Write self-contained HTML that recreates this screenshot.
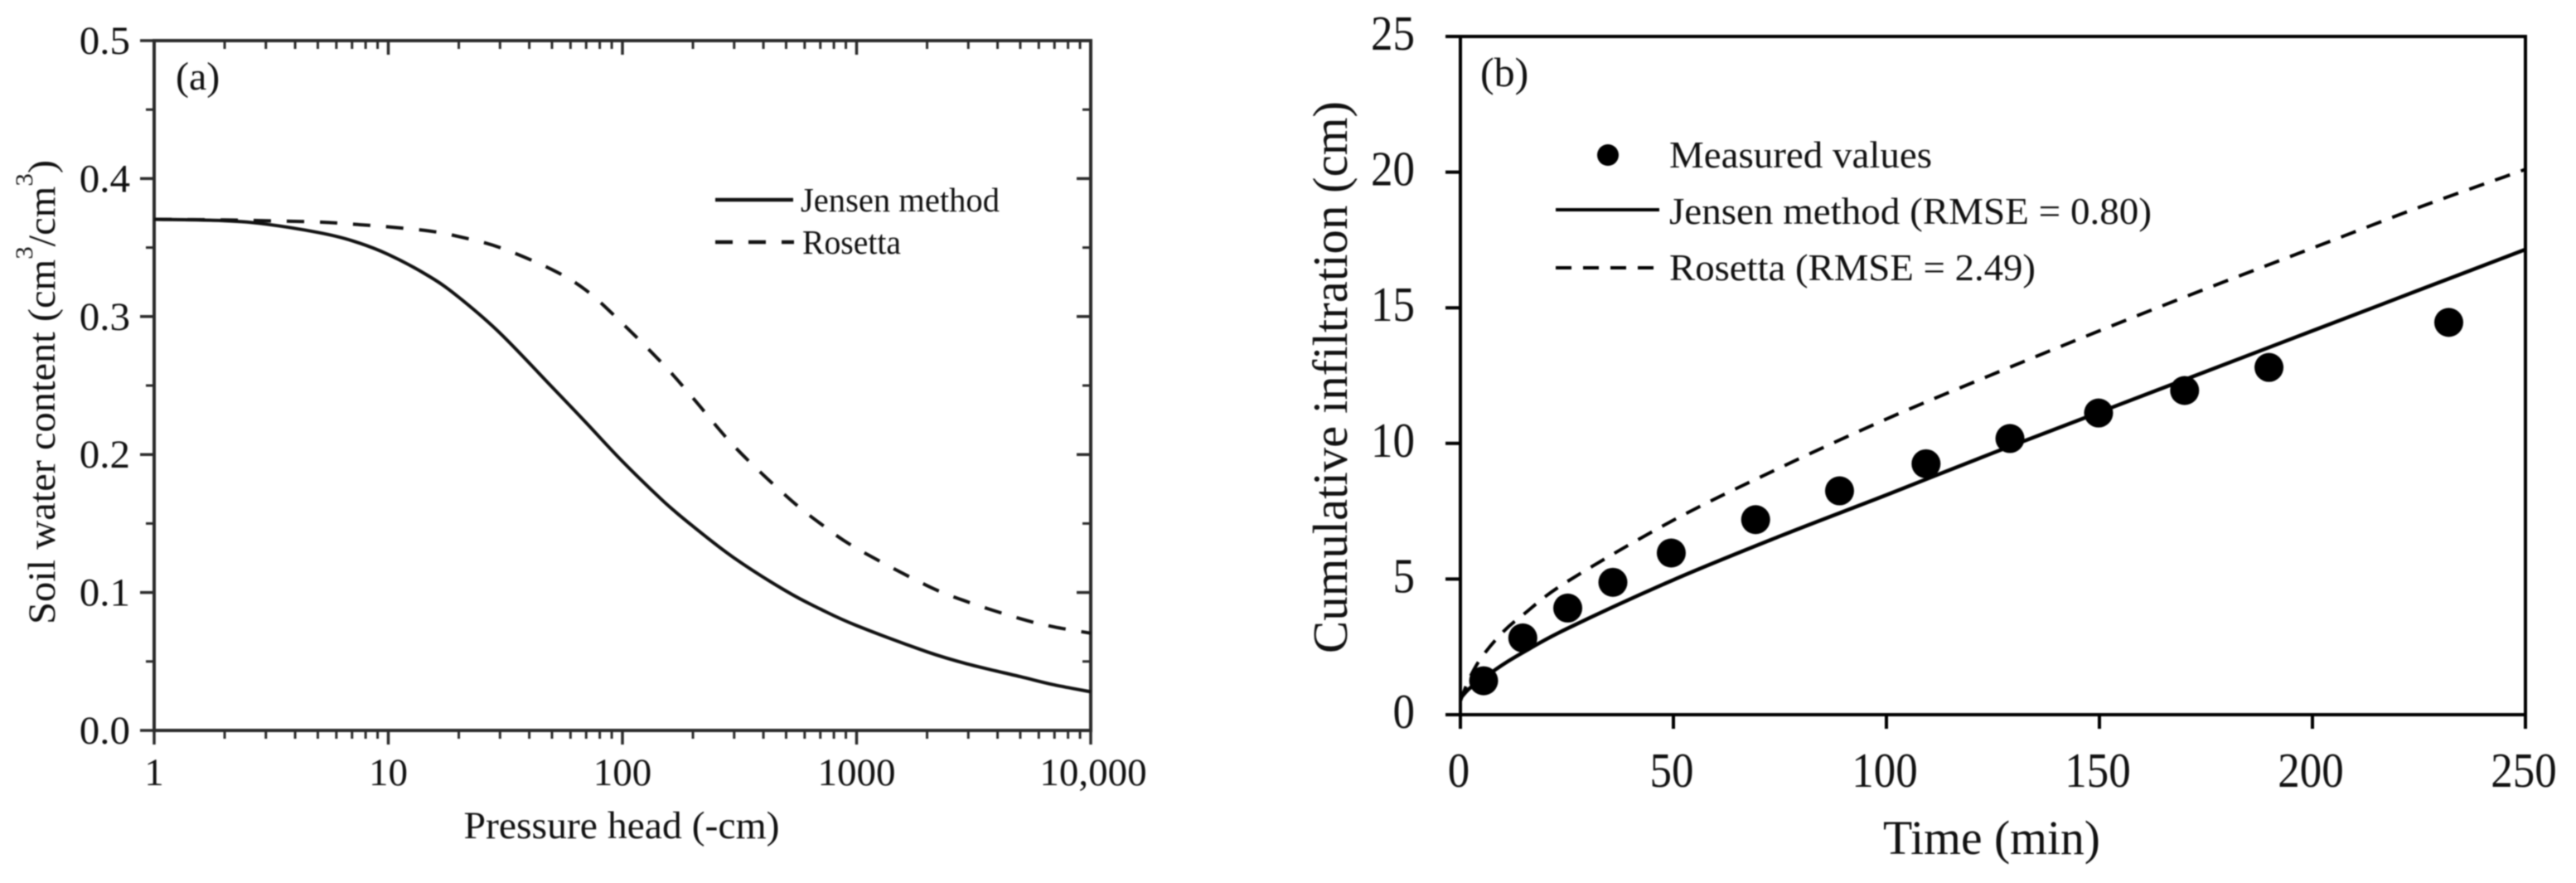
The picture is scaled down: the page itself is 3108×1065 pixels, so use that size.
<!DOCTYPE html>
<html lang="en">
<head>
<meta charset="utf-8">
<title>Soil water retention and cumulative infiltration</title>
<style>
html,body{margin:0;padding:0;background:#fff;}
svg{display:block;}
text{font-family:"Liberation Serif",serif;fill:#111;}
.soft{filter:blur(0.8px);}
</style>
</head>
<body>
<svg id="figure" xmlns="http://www.w3.org/2000/svg" width="3108" height="1065" viewBox="0 0 3108 1065">
  <rect width="3108" height="1065" fill="#ffffff"/>
  <g id="panelA" class="soft">
    <g id="a-axes"></g>
    <g id="a-series"></g>
    <text x="212" y="108" font-size="48">(a)</text>
    <text transform="translate(66,473) rotate(-90)" text-anchor="middle" font-size="47" textLength="560" lengthAdjust="spacingAndGlyphs">Soil water content (cm<tspan dy="-27" font-size="30">3</tspan><tspan dy="27">/cm</tspan><tspan dy="-27" font-size="30">3</tspan><tspan dy="27">)</tspan></text>
    <text x="750" y="1011" text-anchor="middle" font-size="47" textLength="381" lengthAdjust="spacingAndGlyphs">Pressure head (-cm)</text>
    <line x1="863" y1="241" x2="957" y2="241" stroke="#111" stroke-width="4.5"/>
    <text x="966" y="255" font-size="41" textLength="240" lengthAdjust="spacingAndGlyphs">Jensen method</text>
    <line x1="863" y1="292" x2="958" y2="292" stroke="#111" stroke-width="4.5" stroke-dasharray="21 19"/>
    <text x="968" y="306" font-size="41" textLength="119" lengthAdjust="spacingAndGlyphs">Rosetta</text>
  </g>
  <g id="panelB" class="soft">
    <g id="b-axes"></g>
    <g id="b-series"></g>
    <text x="1786" y="104" font-size="50">(b)</text>
    <text transform="translate(1625,455) rotate(-90)" text-anchor="middle" font-size="59" textLength="666" lengthAdjust="spacingAndGlyphs">Cumulative infiltration (cm)</text>
    <text x="2403" y="1030" text-anchor="middle" font-size="58" textLength="262" lengthAdjust="spacingAndGlyphs">Time (min)</text>
    <circle cx="1940" cy="187" r="13" fill="#000"/>
    <text x="2014" y="202" font-size="46" textLength="317" lengthAdjust="spacingAndGlyphs">Measured values</text>
    <line x1="1877" y1="253" x2="2002" y2="253" stroke="#000" stroke-width="4"/>
    <text x="2014" y="270" font-size="46" textLength="582" lengthAdjust="spacingAndGlyphs">Jensen method (RMSE = 0.80)</text>
    <line x1="1877" y1="323" x2="1995" y2="323" stroke="#000" stroke-width="4" stroke-dasharray="19 14"/>
    <text x="2014" y="338" font-size="46" textLength="442" lengthAdjust="spacingAndGlyphs">Rosetta (RMSE = 2.49)</text>
  </g>
</svg>
<script>
// Panel (a) data
const aPressure = [1, 2, 3, 5, 7, 10, 15, 20, 30, 50, 70, 100, 150, 200, 300, 500, 700, 1000, 2000, 3000, 5000, 7000, 10000];
const aJensen   = [0.3705, 0.3695, 0.367, 0.361, 0.355, 0.345, 0.329, 0.314, 0.288, 0.249, 0.223, 0.195, 0.166, 0.148, 0.125, 0.101, 0.088, 0.076, 0.057, 0.048, 0.039, 0.033, 0.028];
const aRosetta  = [0.3705, 0.370, 0.3695, 0.3685, 0.367, 0.365, 0.362, 0.358, 0.350, 0.334, 0.319, 0.295, 0.265, 0.241, 0.206, 0.170, 0.150, 0.132, 0.105, 0.093, 0.081, 0.075, 0.0705];
const aYTicks = ["0.0", "0.1", "0.2", "0.3", "0.4", "0.5"];
const aXTicks = ["1", "10", "100", "1000", "10,000"];
// Panel (b) data
const bTimeMeasured = [5.45, 14.65, 25.2, 35.8, 49.5, 69.3, 89, 109.3, 129, 149.8, 170, 189.8, 232];
const bMeasured     = [1.25, 2.83, 3.93, 4.88, 5.96, 7.19, 8.25, 9.25, 10.18, 11.12, 11.95, 12.8, 14.46];
const bTimeModel = [0, 2, 5, 10, 15, 25, 50, 75, 100, 125, 150, 175, 200, 225, 250];
const bJensen    = [0.6, 0.95, 1.3, 1.85, 2.32, 3.17, 4.97, 6.58, 8.1, 9.65, 11.15, 12.65, 14.15, 15.65, 17.15];
const bRosetta   = [0.5, 1.3, 2.12, 3.05, 3.72, 4.9, 7.17, 9.1, 10.9, 12.55, 14.15, 15.7, 17.2, 18.7, 20.1];
const bXTicks = [0, 50, 100, 150, 200, 250];
const bYTicks = [0, 5, 10, 15, 20, 25];

const NS = 'http://www.w3.org/2000/svg';
function mk(tag, parent, attrs) {
  const el = document.createElementNS(NS, tag);
  for (const k in attrs) el.setAttribute(k, attrs[k]);
  parent.appendChild(el);
  return el;
}
function smoothPath(pts) {
  let d = 'M' + pts[0][0].toFixed(1) + ' ' + pts[0][1].toFixed(1);
  for (let i = 0; i < pts.length - 1; i++) {
    const p0 = pts[Math.max(i - 1, 0)], p1 = pts[i], p2 = pts[i + 1], p3 = pts[Math.min(i + 2, pts.length - 1)];
    const c1 = [p1[0] + (p2[0] - p0[0]) / 6, p1[1] + (p2[1] - p0[1]) / 6];
    const c2 = [p2[0] - (p3[0] - p1[0]) / 6, p2[1] - (p3[1] - p1[1]) / 6];
    d += 'C' + c1[0].toFixed(1) + ' ' + c1[1].toFixed(1) + ' ' + c2[0].toFixed(1) + ' ' + c2[1].toFixed(1) + ' ' + p2[0].toFixed(1) + ' ' + p2[1].toFixed(1);
  }
  return d;
}
function tickLine(parent, x1, y1, x2, y2, color, w) {
  const el = mk('line', parent, {x1: x1, y1: y1, x2: x2, y2: y2, stroke: color, 'stroke-width': w});
  
  
  return el;
}
function tickLabel(parent, x, y, str, size, anchor, sy) {
  const el = mk('text', parent, {transform: 'translate(' + x + ',' + y + ') scale(1,' + sy + ')', 'font-size': size, 'text-anchor': anchor});
  el.textContent = str;
  
  
  return el;
}

// ---------- Panel A ----------
const aL = 186, aR = 1316, aT = 49, aB = 881;
const ax = v => aL + (Math.log10(v) / 4) * (aR - aL);
const ay = v => aB - (v / 0.5) * (aB - aT);
const aAxes = document.getElementById('a-axes');
const aSeries = document.getElementById('a-series');
const aCol = '#2b2b2b';
const aFrame = mk('rect', aAxes, {x: aL, y: aT, width: aR - aL, height: aB - aT, fill: 'none', stroke: aCol, 'stroke-width': 4});


aYTicks.forEach(t => {
  const v = parseFloat(t), y = ay(v);
  tickLine(aAxes, aL - 17, y, aL, y, aCol, 3.5);
  tickLine(aAxes, aR - 17, y, aR, y, aCol, 3.5);
  tickLabel(aAxes, 157, y + 16, t, 49, 'end', 0.97);
  if (v < 0.5) {
    tickLine(aAxes, aL - 10, ay(v + 0.05), aL, ay(v + 0.05), aCol, 3);
    tickLine(aAxes, aR - 10, ay(v + 0.05), aR, ay(v + 0.05), aCol, 3);
  }
});
aXTicks.forEach((t, i) => {
  const dec = Math.pow(10, i), x = ax(dec);
  tickLine(aAxes, x, aB, x, aB + 17, aCol, 3.5);
  tickLine(aAxes, x, aT, x, aT + 17, aCol, 3.5);
  tickLabel(aAxes, i === 4 ? 1319 : x, 947, t, 47, 'middle', 1);
  if (i < 4) {
    for (let m = 2; m <= 9; m++) {
      const mx = ax(dec * m);
      tickLine(aAxes, mx, aB, mx, aB + 10, aCol, 3);
      tickLine(aAxes, mx, aT, mx, aT + 10, aCol, 3);
    }
  }
});
const aRosettaPath = mk('path', aSeries, {d: smoothPath(aPressure.map((p, i) => [ax(p), ay(aRosetta[i])])), fill: 'none', stroke: '#111', 'stroke-width': 4, 'stroke-dasharray': '21 19'});


const aJensenPath = mk('path', aSeries, {d: smoothPath(aPressure.map((p, i) => [ax(p), ay(aJensen[i])])), fill: 'none', stroke: '#111', 'stroke-width': 4});



// ---------- Panel B ----------
const bL = 1762, bR = 3047, bT = 44, bB = 862;
const bx = v => bL + (v / 250) * (bR - bL);
const by = v => bB - (v / 25) * (bB - bT);
const bAxes = document.getElementById('b-axes');
const bSeries = document.getElementById('b-series');
const bFrame = mk('rect', bAxes, {x: bL, y: bT, width: bR - bL, height: bB - bT, fill: 'none', stroke: '#000', 'stroke-width': 4});


bYTicks.forEach(v => {
  const y = by(v);
  tickLine(bAxes, bL - 18, y, bL, y, '#000', 4);
  tickLabel(bAxes, 1707, y + 16, String(v), 53, 'end', 1.12);
});
bXTicks.forEach(v => {
  const x = bx(v);
  tickLine(bAxes, x, bB, x, bB + 17, '#000', 4);
  tickLabel(bAxes, x - 2, 949, String(v), 53, 'middle', 1.12);
});
const bRosettaPath = mk('path', bSeries, {d: smoothPath(bTimeModel.map((t, i) => [bx(t), by(bRosetta[i])])), fill: 'none', stroke: '#000', 'stroke-width': 4, 'stroke-dasharray': '19 14'});


const bJensenPath = mk('path', bSeries, {d: smoothPath(bTimeModel.map((t, i) => [bx(t), by(bJensen[i])])), fill: 'none', stroke: '#000', 'stroke-width': 4.5});


bTimeMeasured.forEach((t, i) => {
  const c = mk('ellipse', bSeries, {cx: bx(t), cy: by(bMeasured[i]), rx: 17.5, ry: 17.5, fill: '#000'});
  
  
});
</script>
</body>
</html>
